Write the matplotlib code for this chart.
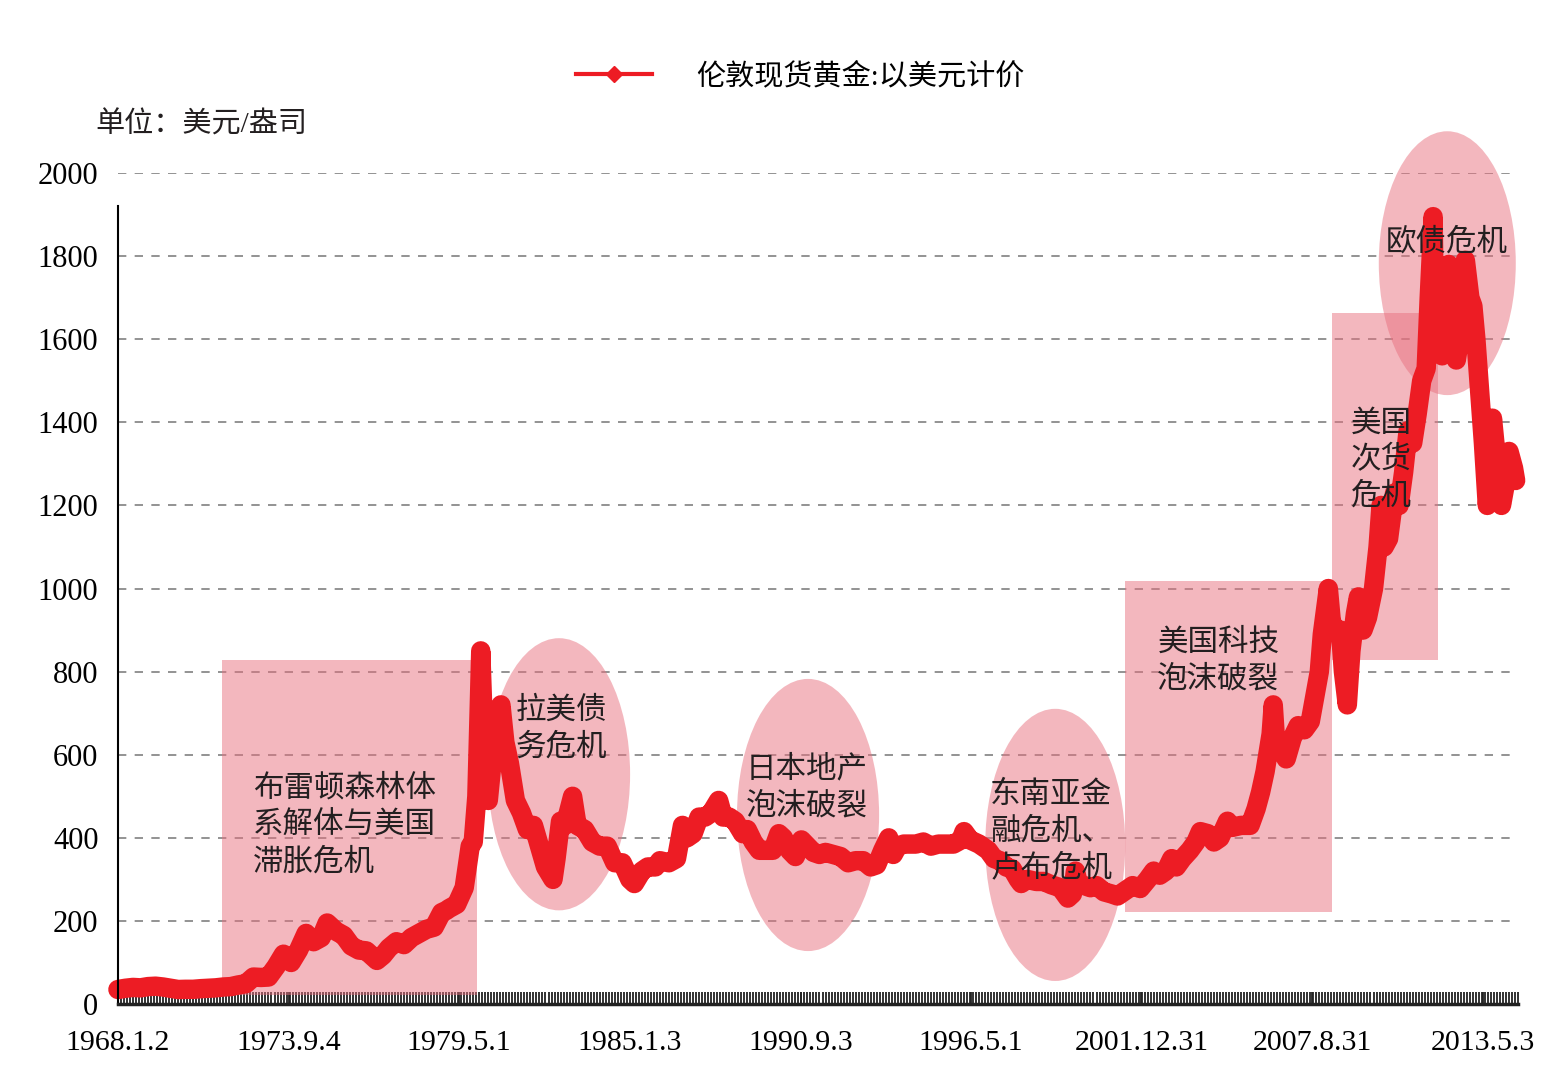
import matplotlib
matplotlib.use('Agg')
import matplotlib.pyplot as plt
from matplotlib.lines import Line2D
from matplotlib.patches import Rectangle, Ellipse
from matplotlib.ticker import MultipleLocator

plt.rcParams['font.family'] = ['Liberation Serif', 'Noto Sans CJK SC']

# gold price, USD/oz (decimal year, price)
years = [1968.0, 1968.25, 1968.5, 1968.75, 1969.0, 1969.25, 1969.5, 1969.75, 1970.0, 1970.25,
         1970.5, 1970.75, 1971.0, 1971.25, 1971.5, 1971.75, 1972.0, 1972.25, 1972.5, 1972.75,
         1973.0, 1973.25, 1973.5, 1973.75, 1974.0, 1974.25, 1974.5, 1974.75, 1974.95, 1975.25,
         1975.5, 1975.75, 1976.0, 1976.25, 1976.6, 1976.8, 1977.0, 1977.25, 1977.5, 1977.75,
         1978.0, 1978.25, 1978.5, 1978.75, 1978.9, 1979.0, 1979.25, 1979.5, 1979.7, 1979.8,
         1979.92, 1980.05, 1980.15, 1980.25, 1980.3, 1980.45, 1980.72, 1980.85, 1981.0, 1981.2,
         1981.4, 1981.6, 1981.8, 1982.0, 1982.2, 1982.45, 1982.55, 1982.7, 1982.85, 1983.1,
         1983.25, 1983.5, 1983.75, 1984.0, 1984.25, 1984.5, 1984.75, 1985.0, 1985.15, 1985.4,
         1985.6, 1985.85, 1986.0, 1986.3, 1986.55, 1986.75, 1986.9, 1987.1, 1987.3, 1987.5,
         1987.7, 1987.95, 1988.1, 1988.3, 1988.5, 1988.75, 1988.9, 1989.1, 1989.3, 1989.5,
         1989.75, 1989.95, 1990.1, 1990.3, 1990.5, 1990.7, 1990.9, 1991.1, 1991.3, 1991.5,
         1991.75, 1992.0, 1992.25, 1992.5, 1992.75, 1993.0, 1993.2, 1993.4, 1993.6, 1993.75,
         1993.9, 1994.1, 1994.3, 1994.5, 1994.75, 1995.0, 1995.25, 1995.5, 1995.75, 1996.0,
         1996.1, 1996.3, 1996.6, 1996.9, 1997.1, 1997.3, 1997.5, 1997.7, 1997.9, 1998.0,
         1998.2, 1998.5, 1998.75, 1999.0, 1999.3, 1999.55, 1999.7, 1999.8, 1999.9, 2000.1,
         2000.3, 2000.5, 2000.75, 2001.0, 2001.2, 2001.4, 2001.7, 2001.95, 2002.2, 2002.4,
         2002.6, 2002.8, 2003.0, 2003.15, 2003.35, 2003.6, 2003.8, 2003.95, 2004.2, 2004.4,
         2004.6, 2004.85, 2005.0, 2005.3, 2005.6, 2005.8, 2005.95, 2006.1, 2006.3, 2006.37,
         2006.45, 2006.6, 2006.8, 2007.0, 2007.2, 2007.4, 2007.6, 2007.75, 2007.9, 2008.0,
         2008.2, 2008.3, 2008.45, 2008.6, 2008.7, 2008.83, 2008.95, 2009.1, 2009.2, 2009.35,
         2009.5, 2009.7, 2009.85, 2009.95, 2010.05, 2010.2, 2010.4, 2010.55, 2010.7, 2010.85,
         2011.0, 2011.15, 2011.3, 2011.45, 2011.55, 2011.68, 2011.73, 2011.8, 2011.9, 2011.98,
         2012.1, 2012.2, 2012.35, 2012.45, 2012.6, 2012.75, 2012.9, 2013.0, 2013.1, 2013.25,
         2013.35, 2013.48, 2013.6, 2013.65, 2013.8, 2013.95, 2014.1, 2014.2, 2014.35, 2014.42]
price = [35, 38, 40, 39, 42, 43, 41, 38, 35, 35.5,
         35.5, 37, 38, 39, 41, 42, 46, 49, 65, 64,
         65, 90, 120, 100, 130, 170, 150, 160, 195, 175,
         165, 140, 130, 128, 105, 117, 135, 150, 143, 160,
         170, 180, 185, 220, 225, 230, 240, 280, 380, 390,
         500, 850, 640, 520, 490, 600, 720, 630, 580, 490,
         460, 420, 430, 380, 330, 300, 350, 440, 430, 500,
         430, 420, 390, 380, 380, 340, 340, 300, 290, 320,
         330, 330, 345, 340, 350, 430, 400, 410, 450, 450,
         460, 490, 450, 450, 440, 410, 420, 390, 370, 370,
         370, 410, 400, 370, 355, 395, 380, 365, 360, 365,
         360, 355, 340, 345, 345, 330, 335, 370, 400, 360,
         380, 385, 385, 385, 390, 380, 385, 385, 385, 395,
         415, 395, 385, 370, 350, 345, 330, 325, 300, 290,
         300, 295, 295, 287, 280, 255, 265, 320, 290, 285,
         280, 285, 270, 265, 260, 270, 285, 278, 300, 320,
         310, 320, 350, 330, 350, 370, 390, 415, 410, 390,
         400, 440, 425, 430, 430, 470, 510, 560, 650, 720,
         630, 620, 590, 640, 670, 660, 680, 740, 800, 890,
         1000, 920, 900, 900, 800, 720, 850, 940, 980, 900,
         930, 1000, 1100, 1200, 1100, 1120, 1230, 1200, 1280, 1380,
         1350, 1420, 1500, 1530, 1700, 1895, 1620, 1700, 1750, 1560,
         1730, 1780, 1630, 1550, 1620, 1790, 1700, 1680, 1600, 1450,
         1350, 1200, 1320, 1410, 1300, 1200, 1260, 1330, 1290, 1260]

tick_pos = [1968.0, 1973.67, 1979.33, 1985.0, 1990.67, 1996.33, 2001.99, 2007.66, 2013.33]
tick_lab = ['1968.1.2', '1973.9.4', '1979.5.1', '1985.1.3', '1990.9.3',
            '1996.5.1', '2001.12.31', '2007.8.31', '2013.5.3']

# event boxes: (kind, x, y, w, h)
events = [
    ('rect', 1971.46, 22, 8.47, 806),
    ('ell', 1982.65, 553, 4.72, 655),
    ('ell', 1990.92, 455, 4.72, 655),
    ('ell', 1999.13, 383, 4.65, 655),
    ('rect', 2001.46, 221, 6.87, 797),
    ('rect', 2008.33, 828, 3.52, 835),
    ('ell', 2012.15, 1783, 4.55, 635),
]
event_text = [
    (1972.49, 517, ['布雷顿森林体', '系解体与美国', '滞胀危机']),
    (1981.22, 705, ['拉美债', '务危机']),
    (1988.86, 563, ['日本地产', '泡沫破裂']),
    (1996.97, 503, ['东南亚金', '融危机、', '卢布危机']),
    (2002.52, 869, ['美国科技', '泡沫破裂']),
    (2008.93, 1396, ['美国', '次货', '危机']),
    (2010.09, 1832, ['欧债危机']),
]

red = '#ed1c24'
pink = '#e8707f'

fig = plt.figure(figsize=(15.6, 10.78), dpi=100)
ax = fig.add_axes([0.0756, 0.0686, 0.8975, 0.7709])

for kind, x, y, w, h in events:
    if kind == 'rect':
        p = Rectangle((x, y), w, h, facecolor=pink, edgecolor='none', alpha=0.5, zorder=1)
    else:
        p = Ellipse((x, y), w, h, facecolor=pink, edgecolor='none', alpha=0.5, zorder=1)
    p.set_clip_on(False)
    ax.add_patch(p)

ax.plot(years, price, color=red, lw=14, solid_joinstyle='round', solid_capstyle='round',
        zorder=2, clip_on=False)

for x, y, lines in event_text:
    for i, s in enumerate(lines):
        ax.annotate(s, (x, y), xytext=(0, -26.5 * i), textcoords='offset points',
                    ha='left', va='center', fontsize=22, color='#231f20', zorder=4)

ax.set_xlim(1968.0, 2014.5)
ax.set_ylim(0, 2000)
ax.set_yticks(range(0, 2001, 200))
ax.yaxis.grid(True, linestyle=(0, (5, 5)), color='#808080', lw=1.2, zorder=0)
ax.set_axisbelow(True)
ax.set_xticks(tick_pos)
ax.set_xticklabels(tick_lab)
ax.xaxis.set_minor_locator(MultipleLocator(0.1))
ax.tick_params(axis='x', which='both', direction='in', length=9, width=1.3,
               color='#222222', labelsize=21.5, pad=19)
ax.tick_params(axis='y', direction='in', length=0, labelsize=22, pad=14)

for s in ['top', 'right']:
    ax.spines[s].set_visible(False)
ax.spines['left'].set_bounds(0, 1920)
ax.spines['left'].set_linewidth(1.5)
ax.spines['bottom'].set_linewidth(2.5)
ax.spines['bottom'].set_color('#222222')

fig.text(0.061, 0.884, '单位：美元/盎司', fontsize=21, ha='left', va='center', color='#231f20')

handle = Line2D([], [], color=red, lw=3, marker='D', markersize=8)
fig.legend([handle], ['伦敦现货黄金:以美元计价'], loc='center', bbox_to_anchor=(0.513, 0.929),
           frameon=False, fontsize=21, handlelength=2.6, handletextpad=1.5)

fig.savefig('out.png', dpi=100)
